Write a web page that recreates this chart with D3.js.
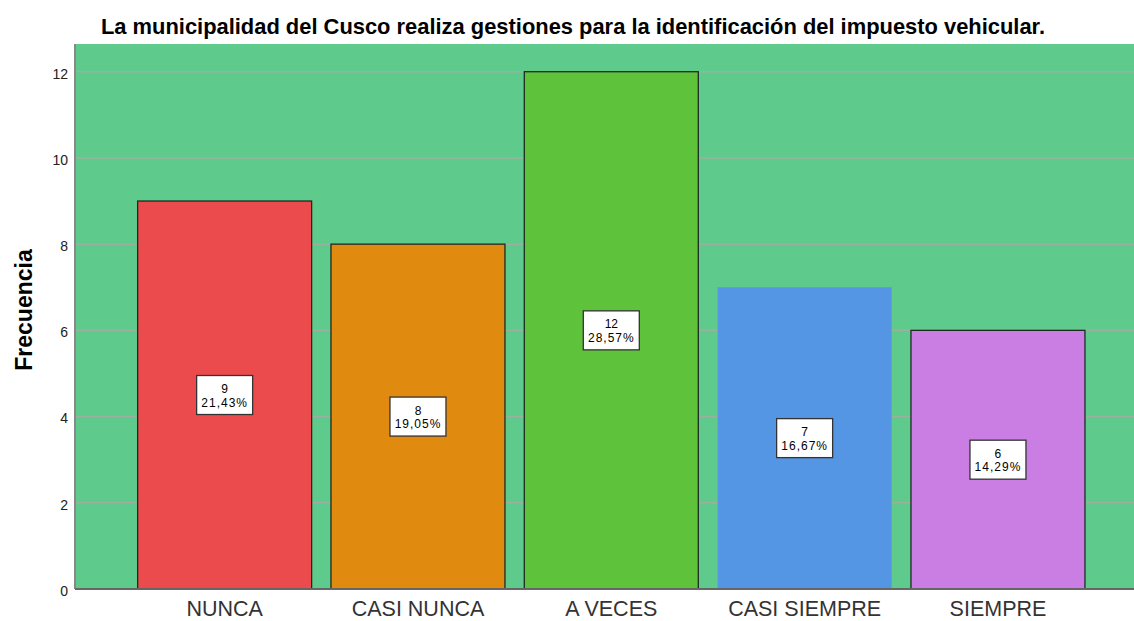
<!DOCTYPE html>
<html>
<head>
<meta charset="utf-8">
<script src="https://cdn.jsdelivr.net/npm/d3@7"></script>
<style>
  body { margin: 0; background: #fff; }
  text { font-family: "Liberation Sans", Arial, sans-serif; }
</style>
</head>
<body>
<div id="chart"></div>
<script>
// data
var categories = ['NUNCA', 'CASI NUNCA', 'A VECES', 'CASI SIEMPRE', 'SIEMPRE'];
var counts = [9, 8, 12, 7, 6];
var percents = ['21,43%', '19,05%', '28,57%', '16,67%', '14,29%'];
var barColors = ['#ec4b4d', '#e08a10', '#5ec23a', '#5596e4', '#ca7ee3'];
var yTicks = [0, 2, 4, 6, 8, 10, 12];

var width = 1134, height = 621;
var margin = { top: 44, left: 75, bottom: 32 };
var plotBottom = height - margin.bottom; // y of zero line

var svg = d3.select('#chart')
    .append('svg')
    .attr('width', width)
    .attr('height', height);

var y_scale = d3.scaleLinear()
    .domain([0, 12])
    .range([plotBottom, 71.7]);

var x_scale = d3.scaleBand()
    .domain(categories)
    .range([margin.left, margin.left + 1072.6])
    .paddingInner(0.1)
    .paddingOuter(0.324);

// plot background
svg.append('rect')
    .attr('x', margin.left)
    .attr('y', margin.top)
    .attr('width', width - margin.left)
    .attr('height', plotBottom - margin.top)
    .attr('fill', '#5ecb8c');

// gridlines
svg.append('g')
    .selectAll('line')
    .data(yTicks.filter(function(d) { return d > 0; }))
    .enter()
    .append('line')
    .attr('x1', margin.left)
    .attr('x2', width)
    .attr('y1', function(d) { return y_scale(d); })
    .attr('y2', function(d) { return y_scale(d); })
    .attr('stroke', '#9cb0a0')
    .attr('stroke-width', 1.5);

// bars
svg.append('g')
    .selectAll('rect')
    .data(counts)
    .enter()
    .append('rect')
    .attr('x', function(d, i) { return x_scale(categories[i]); })
    .attr('y', function(d) { return y_scale(d); })
    .attr('width', x_scale.bandwidth())
    .attr('height', function(d) { return y_scale(0) - y_scale(d); })
    .attr('fill', function(d, i) { return barColors[i]; })
    .attr('stroke', function(d, i) { return i === 3 ? 'none' : '#1e2a22'; })
    .attr('stroke-width', 1.3);

// axes
var y_axis = d3.axisLeft(y_scale)
    .tickValues(yTicks)
    .tickSize(0)
    .tickPadding(7);

var gy = svg.append('g')
    .attr('transform', 'translate(' + margin.left + ',0)')
    .call(y_axis);
gy.select('.domain')
    .attr('d', 'M0,' + margin.top + 'V' + plotBottom)
    .attr('stroke', '#888')
    .attr('stroke-width', 2);
gy.selectAll('text')
    .attr('font-size', 14)
    .attr('dy', '0.45em')
    .attr('fill', '#222');

var x_axis = d3.axisBottom(x_scale).tickSize(0).tickPadding(12);
var gx = svg.append('g')
    .attr('transform', 'translate(0,' + plotBottom + ')')
    .call(x_axis);
gx.select('.domain')
    .attr('d', 'M' + margin.left + ',0H' + width)
    .attr('stroke', '#666')
    .attr('stroke-width', 2);
gx.selectAll('text')
    .attr('font-size', 21.5)
    .attr('fill', '#333');

// value labels
var labels = svg.append('g')
    .selectAll('g')
    .data(counts)
    .enter()
    .append('g')
    .attr('transform', function(d, i) {
        return 'translate(' + (x_scale(categories[i]) + x_scale.bandwidth() / 2) + ',' + y_scale(d / 2) + ')';
    });

labels.append('rect')
    .attr('x', -28)
    .attr('y', -19.5)
    .attr('width', 56)
    .attr('height', 39)
    .attr('fill', '#fff')
    .attr('stroke', '#333')
    .attr('stroke-width', 1.3);

labels.append('text')
    .attr('text-anchor', 'middle')
    .attr('y', -2)
    .attr('font-size', 12)
    .text(function(d) { return d; });

labels.append('text')
    .attr('text-anchor', 'middle')
    .attr('y', 11.5)
    .attr('font-size', 12)
    .attr('letter-spacing', '1px')
    .text(function(d, i) { return percents[i]; });

// title
svg.append('text')
    .attr('x', 573)
    .attr('y', 34)
    .attr('text-anchor', 'middle')
    .attr('font-size', 21.9)
    .attr('font-weight', 'bold')
    .text('La municipalidad del Cusco realiza gestiones para la identificación del impuesto vehicular.');

// y axis label
svg.append('text')
    .attr('transform', 'translate(31.5,' + 310 + ') rotate(-90)')
    .attr('text-anchor', 'middle')
    .attr('font-size', 23)
    .attr('font-weight', 'bold')
    .text('Frecuencia');
</script>
</body>
</html>
